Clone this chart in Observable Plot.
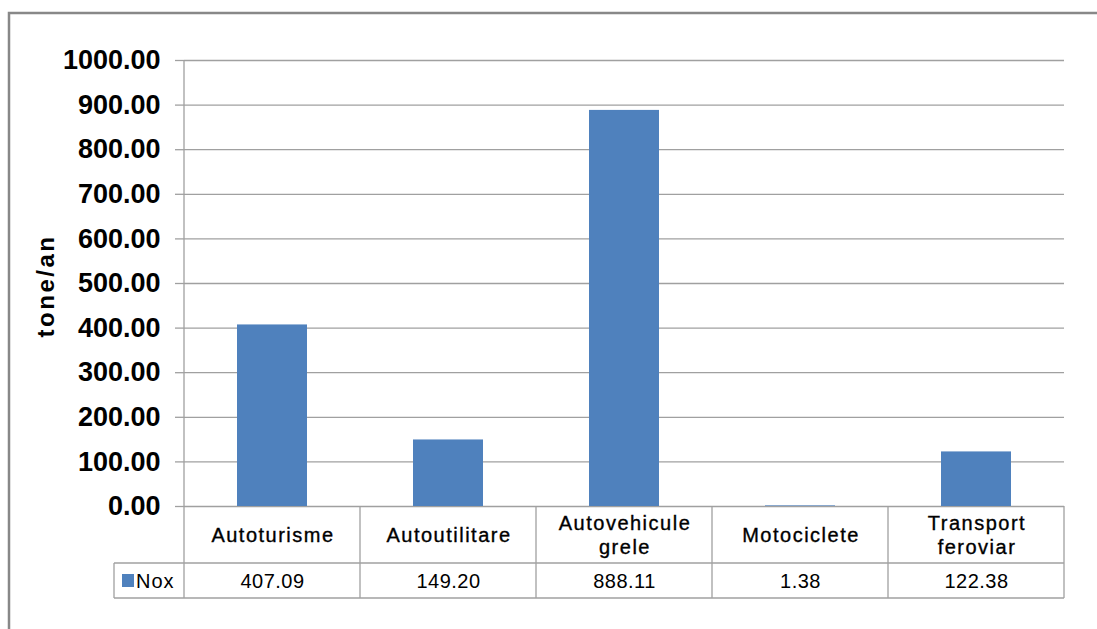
<!DOCTYPE html>
<html><head><meta charset="utf-8">
<script src="https://cdn.jsdelivr.net/npm/d3@7"></script>
<script src="https://cdn.jsdelivr.net/npm/@observablehq/plot@0.6"></script>
<style>body{margin:0;background:#fff} svg{display:block}</style>
</head><body><div id="chart"></div>
<script>
const categories = ["Autoturisme","Autoutilitare","Autovehicule grele","Motociclete","Transport feroviar"];
const categoryLabels = [["Autoturisme"],["Autoutilitare"],["Autovehicule","grele"],["Motociclete"],["Transport","feroviar"]];
const noxValues = [407.09, 149.20, 888.11, 1.38, 122.38];
const seriesName = "Nox";
const yTicks = [0,100,200,300,400,500,600,700,800,900,1000];
const yLabel = "tone/an";

const data = categories.map((c,i)=>({cat:c, value:noxValues[i]}));
const FONT = "Arial, 'Liberation Sans', sans-serif";
const GRID = "#a0a0a0";

const chart = Plot.plot({
  width:1097, height:629,
  marginLeft:184, marginRight:33, marginTop:60, marginBottom:123,
  style:{fontFamily:FONT, background:"white", color:"black"},
  x:{domain:categories, padding:0, axis:null},
  y:{domain:[0,1000]},
  marks:[
    Plot.gridY(yTicks,{stroke:GRID, strokeOpacity:1, strokeWidth:1.3}),
    Plot.axisY(yTicks,{tickSize:9, tickPadding:15, tickFormat:d=>d.toFixed(2), fontSize:27, fontWeight:"bold", stroke:GRID, strokeWidth:1.3, fill:"black", label:null}),
    Plot.barY(data,{x:"cat", y:"value", fill:"#4F81BD", insetLeft:53, insetRight:53})
  ]
});
document.getElementById("chart").appendChild(chart);

const svg = d3.select(chart);
const xs = chart.scale("x"), ys = chart.scale("y");
const bw = xs.bandwidth;
const xL = xs.range[0], xR = xs.range[1];
const yb = ys.apply(0), yt = ys.apply(1000);
const hdrB = yb + 57, rowB = yb + 92, legL = xL - 70;

const g = svg.append("g").attr("stroke", GRID).attr("stroke-width", 1.3).attr("fill","none");
g.append("line").attr("x1",xL).attr("x2",xL).attr("y1",yt).attr("y2",rowB);
categories.forEach((c,i)=>{
  const xe = xs.apply(c) + bw;
  g.append("line").attr("x1",xe).attr("x2",xe).attr("y1",yb).attr("y2",rowB);
});
g.append("line").attr("x1",legL).attr("x2",xR).attr("y1",hdrB).attr("y2",hdrB);
g.append("line").attr("x1",legL).attr("x2",xR).attr("y1",rowB).attr("y2",rowB);
g.append("line").attr("x1",legL).attr("x2",legL).attr("y1",hdrB).attr("y2",rowB);

const txt = (sel) => sel.attr("font-family",FONT).attr("fill","black")
  .attr("stroke","black").attr("stroke-width",0.35);

categories.forEach((c,i)=>{
  const cx = xs.apply(c) + bw/2;
  const lines = categoryLabels[i];
  const t = txt(svg.append("text")).attr("text-anchor","middle")
    .attr("font-size",20).attr("letter-spacing","1.5px");
  const cy = (yb + hdrB)/2;
  lines.forEach((ln,j)=>{
    t.append("tspan").attr("x",cx+1).attr("y", cy + (j - (lines.length-1)/2)*24).attr("dy","0.35em").text(ln);
  });
  svg.append("text").attr("x",cx+0.5).attr("y",(hdrB+rowB)/2).attr("dy","0.35em")
    .attr("text-anchor","middle").attr("font-family",FONT).attr("font-size",20)
    .attr("letter-spacing","0.5px").attr("fill","black").text(noxValues[i].toFixed(2));
});
svg.append("rect").attr("x",legL+8).attr("y",(hdrB+rowB)/2-6.5).attr("width",12).attr("height",13).attr("fill","#4F81BD");
svg.append("text").attr("x",legL+22).attr("y",(hdrB+rowB)/2).attr("dy","0.35em").attr("text-anchor","start")
  .attr("font-family",FONT).attr("font-size",20).attr("letter-spacing","1px").attr("fill","black").text(seriesName);

svg.append("text").attr("transform",`translate(46,${(yb+yt)/2 + 3}) rotate(-90)`)
  .attr("text-anchor","middle").attr("dy","0.35em").attr("font-family",FONT)
  .attr("font-size",24).attr("font-weight","bold").attr("letter-spacing","2.5px").attr("fill","black").text(yLabel);

svg.append("path").attr("d","M9,629V13H1097").attr("fill","none").attr("stroke","#888").attr("stroke-width",2.5);
</script>
</body></html>
